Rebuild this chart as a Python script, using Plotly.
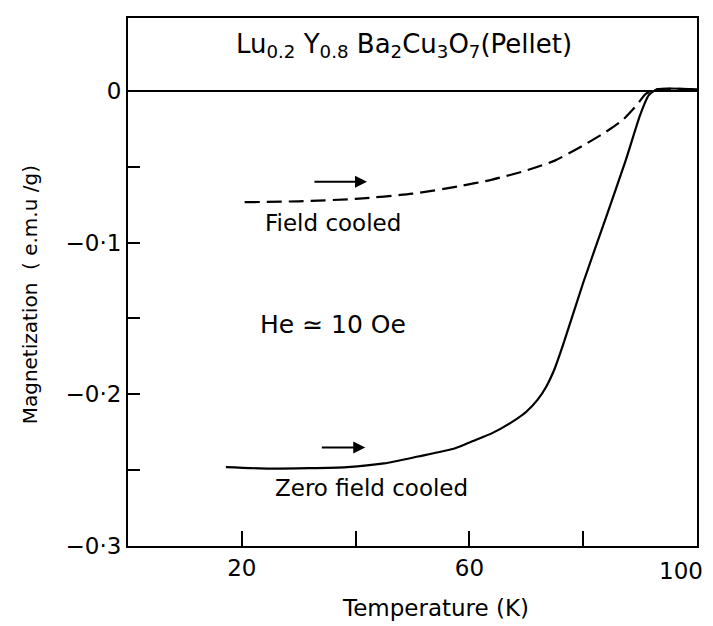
import plotly.graph_objects as go

# Zero field cooled (solid)
zfc_T = [17.2, 25, 38.5, 45, 51, 57.5, 60.5, 64, 68, 70, 72, 73.5, 75, 76.5, 80, 84, 87.5, 90, 91.5, 93, 100]
zfc_M = [-0.248, -0.249, -0.248, -0.2456, -0.241, -0.2356, -0.231, -0.2256, -0.217, -0.2115,
         -0.2035, -0.195, -0.183, -0.167, -0.1265, -0.0835, -0.0455, -0.016, -0.003, 0.001, 0.001]

# Field cooled (dashed)
fc_T = [20.5, 30, 40, 50, 58, 64, 70, 75, 80, 84, 87, 89.5, 91, 93, 100]
fc_M = [-0.0734, -0.0728, -0.0712, -0.0678, -0.0630, -0.0585, -0.0525, -0.046, -0.036,
        -0.027, -0.019, -0.009, -0.002, 0.001, 0.001]

x_tickvals = [20, 60]
x_ticktext = ["20", "60"]
x_end_val = 100
x_end_text = "100"
x_minor = [40, 80]
y_tickvals = [0, -0.1, -0.2, -0.3]
y_ticktext = ["0", "\u22120\u00b71", "\u22120\u00b72", "\u22120\u00b73"]
y_minor = [-0.05, -0.15, -0.25]

FONT = "DejaVu Sans"
fig = go.Figure()
fig.add_trace(go.Scatter(x=fc_T, y=fc_M, mode="lines",
                         line=dict(color="black", width=2.2, dash="15px,7px", shape="spline", smoothing=0.6),
                         showlegend=False))
fig.add_trace(go.Scatter(x=zfc_T, y=zfc_M, mode="lines",
                         line=dict(color="black", width=2.2, shape="spline", smoothing=0.6),
                         showlegend=False))

def f(size):
    return dict(family=FONT, size=size, color="black")

anns = [
    dict(x=48.5, y=0.030, text="Lu<sub>0.2</sub> Y<sub>0.8</sub> Ba<sub>2</sub>Cu<sub>3</sub>O<sub>7</sub>(Pellet)",
         showarrow=False, font=f(26)),
    dict(x=36, y=-0.087, text="Field cooled", showarrow=False, font=f(23)),
    dict(x=36, y=-0.154, text="He \u2243 10 Oe", showarrow=False, font=f(25)),
    dict(x=42.8, y=-0.262, text="Zero field cooled", showarrow=False, font=f(23)),
    dict(x=42, y=-0.060, ax=32.5, ay=-0.060, axref="x", ayref="y", text="", showarrow=True,
         arrowhead=2, arrowsize=1.2, arrowwidth=2, arrowcolor="black"),
    dict(x=41.7, y=-0.235, ax=33.8, ay=-0.235, axref="x", ayref="y", text="", showarrow=True,
         arrowhead=2, arrowsize=1.2, arrowwidth=2, arrowcolor="black"),
    dict(x=x_end_val, y=0, xref="x", yref="paper", text=x_end_text, showarrow=False,
         xanchor="center", yanchor="top", xshift=-16, yshift=-10, font=f(23)),
    dict(x=0.54, y=-0.117, xref="paper", yref="paper", text="Temperature (K)", showarrow=False,
         xanchor="center", yanchor="middle", font=f(23)),
    dict(x=-0.172, y=0.475, xref="paper", yref="paper", text="Magnetization  ( e.m.u /g)", showarrow=False,
         xanchor="center", yanchor="middle", textangle=-90, font=f(20)),
]

fig.update_layout(
    width=713, height=626,
    margin=dict(l=128, r=16, t=18, b=80),
    paper_bgcolor="white", plot_bgcolor="white",
    annotations=anns,
    xaxis=dict(range=[0, 100], showgrid=False, zeroline=False,
               showline=True, linecolor="black", linewidth=2, mirror=True,
               tickmode="array", tickvals=x_tickvals, ticktext=x_ticktext,
               ticks="inside", ticklen=15, tickwidth=1.5, tickcolor="black",
               minor=dict(tickmode="array", tickvals=x_minor, ticks="inside", ticklen=15,
                          tickwidth=1.5, tickcolor="black", showgrid=False),
               tickfont=f(23)),
    yaxis=dict(range=[-0.3, 0.048], showgrid=False,
               zeroline=True, zerolinecolor="black", zerolinewidth=2,
               showline=True, linecolor="black", linewidth=2, mirror=True,
               tickmode="array", tickvals=y_tickvals, ticktext=y_ticktext,
               ticks="inside", ticklen=12, tickwidth=1.5, tickcolor="black",
               minor=dict(tickmode="array", tickvals=y_minor, ticks="inside", ticklen=12,
                          tickwidth=1.5, tickcolor="black", showgrid=False),
               tickfont=f(23)),
)

fig.write_html("out.html")
